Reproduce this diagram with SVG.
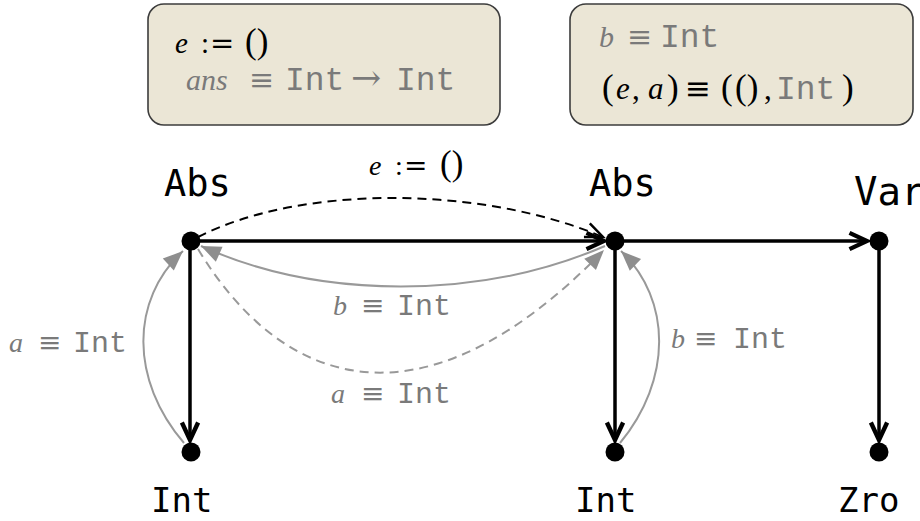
<svg xmlns="http://www.w3.org/2000/svg" width="920" height="521" viewBox="0 0 920 521">
<style>
.box{fill:#ebe6d6;stroke:#3c3c3c;stroke-width:1.6}
.m{font-family:"Liberation Serif","DejaVu Serif",serif;font-size:29px;fill:#000}
.mg{font-family:"Liberation Serif","DejaVu Serif",serif;font-size:28px;fill:#7a7a7a}
.i{font-style:italic}
.s{font-family:"DejaVu Serif",serif}
.p{font-size:35px}
.tt{font-family:"Liberation Mono","DejaVu Sans Mono",monospace;font-size:30px}
.tb{font-size:33px}
.g{fill:#7a7a7a}
.lbl{font-family:"DejaVu Sans Mono",monospace;fill:#000}
.node{fill:#000}
.e{fill:none;stroke:#000;stroke-width:3.5}
.ed{fill:none;stroke:#000;stroke-width:2;stroke-dasharray:9 6}
.gs{fill:none;stroke:#999;stroke-width:2}
.gd{fill:none;stroke:#999;stroke-width:2;stroke-dasharray:9 6}
</style>
<defs>
<marker id="ab" markerUnits="userSpaceOnUse" markerWidth="30" markerHeight="30" viewBox="-20 -10 24 20" refX="0" refY="0" orient="auto">
<path d="M-14,-6.5 L0,0 L-14,6.5" fill="none" stroke="#000" stroke-width="3.5" stroke-linejoin="miter"/>
</marker>
<marker id="abt" markerUnits="userSpaceOnUse" markerWidth="30" markerHeight="30" viewBox="-20 -10 24 20" refX="0" refY="0" orient="auto">
<path d="M-14,-6 L0,0 L-14,6" fill="none" stroke="#000" stroke-width="2" stroke-linejoin="miter"/>
</marker>
<marker id="ag" markerUnits="userSpaceOnUse" markerWidth="30" markerHeight="30" viewBox="-20 -10 24 20" refX="0" refY="0" orient="auto">
<path d="M-16,-6.5 L0,0 L-16,6.5 Z" fill="#8e8e8e" stroke="none"/>
</marker>
</defs>

<g id="box1">
<rect class="box" x="148" y="4" width="352" height="121" rx="16"/>
<text class="m" y="53"><tspan class="i" x="175">e</tspan><tspan x="201">:</tspan><tspan class="s" x="210">=</tspan><tspan class="p" x="245">()</tspan></text>
<text class="mg" y="90" style="font-size:30px"><tspan class="i" x="186">ans</tspan><tspan class="s" x="249">≡</tspan><tspan class="tt tb" x="285">Int</tspan><tspan class="s" x="351" style="font-size:36px">→</tspan><tspan class="tt tb" x="396">Int</tspan></text>
</g>

<g id="box2">
<rect class="box" x="570" y="4" width="343" height="121" rx="16"/>
<text class="mg" y="47" style="font-size:30px"><tspan class="i" x="599">b</tspan><tspan class="s" x="627">≡</tspan><tspan class="tt tb" x="660">Int</tspan></text>
<text class="m" y="99" style="font-size:31px"><tspan class="p" x="602">(</tspan><tspan class="i" x="616">e</tspan><tspan x="632">,</tspan><tspan class="i" x="648">a</tspan><tspan class="p" x="667">)</tspan><tspan class="s" x="685">≡</tspan><tspan class="p" x="721">(</tspan><tspan class="p" x="735">()</tspan><tspan x="764">,</tspan><tspan class="tt tb g" x="776">Int</tspan><tspan class="p" x="842">)</tspan></text>
</g>

<g id="edges">
<path class="e" d="M190,241 L604,241" marker-end="url(#ab)"/>
<path class="e" d="M615,241 L867,241" marker-end="url(#ab)"/>
<path class="e" d="M190,241 L190,440" marker-end="url(#ab)"/>
<path class="e" d="M615,241 L615,440" marker-end="url(#ab)"/>
<path class="e" d="M879,241 L879,440" marker-end="url(#ab)"/>
<path class="ed" d="M198,237 C300,185 480,185 603,237" marker-end="url(#abt)"/>
<path class="gs" d="M605,246 C480,300 320,300 201,246" marker-end="url(#ag)"/>
<path class="gd" d="M198,249 C280,385 420,440 604,250" marker-end="url(#ag)"/>
<path class="gs" d="M184,443 C130,380 130,300 183,251" marker-end="url(#ag)"/>
<path class="gs" d="M620,443 C672,380 672,300 621,251" marker-end="url(#ag)"/>
</g>

<g id="edge-labels">
<text class="m" y="175" style="font-size:28px"><tspan class="i" x="369">e</tspan><tspan x="395">:</tspan><tspan class="s" x="404">=</tspan><tspan class="p" x="440">()</tspan></text>
<text class="mg" y="315"><tspan class="i" x="333">b</tspan><tspan class="s" x="361">≡</tspan><tspan class="tt" x="397">Int</tspan></text>
<text class="mg" y="403"><tspan class="i" x="331">a</tspan><tspan class="s" x="361">≡</tspan><tspan class="tt" x="397">Int</tspan></text>
<text class="mg" y="352"><tspan class="i" x="9">a</tspan><tspan class="s" x="38">≡</tspan><tspan class="tt" x="73">Int</tspan></text>
<text class="mg" y="348"><tspan class="i" x="671">b</tspan><tspan class="s" x="694">≡</tspan><tspan class="tt" x="733">Int</tspan></text>
</g>

<g id="n-abs1"><circle class="node" cx="191" cy="241" r="9.5"/><text class="lbl" x="164" y="196" font-size="37">Abs</text></g>
<g id="n-abs2"><circle class="node" cx="615" cy="241" r="9.5"/><text class="lbl" x="589" y="196" font-size="37">Abs</text></g>
<g id="n-var"><circle class="node" cx="879" cy="241" r="9.5"/><text class="lbl" x="854" y="205" font-size="39">Var</text></g>
<g id="n-int1"><circle class="node" cx="191" cy="452" r="9.5"/><text class="lbl" x="151" y="512" font-size="34">Int</text></g>
<g id="n-int2"><circle class="node" cx="615" cy="452" r="9.5"/><text class="lbl" x="575" y="512" font-size="34">Int</text></g>
<g id="n-zro"><circle class="node" cx="879" cy="452" r="9.5"/><text class="lbl" x="838" y="512" font-size="34">Zro</text></g>
</svg>
